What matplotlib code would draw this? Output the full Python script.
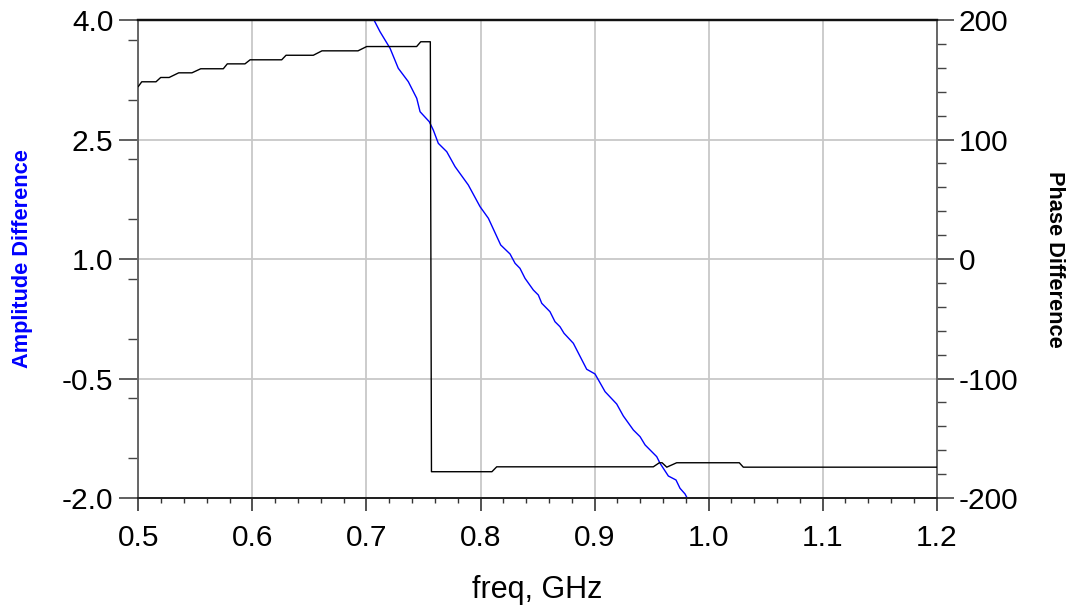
import matplotlib
matplotlib.use("Agg")
import matplotlib.pyplot as plt
from matplotlib.ticker import MultipleLocator, FixedLocator

plt.rcParams['font.family'] = ['Liberation Sans', 'DejaVu Sans']

# Amplitude difference (left axis)
amp_freq = [0.7066, 0.7119, 0.7207, 0.7279, 0.7367, 0.7441, 0.7470, 0.7551, 0.7586,
            0.7630, 0.7704, 0.7777, 0.7893, 0.7996, 0.8069, 0.8177, 0.8259, 0.8303,
            0.8346, 0.8390, 0.8463, 0.8507, 0.8537, 0.8609, 0.8653, 0.8697, 0.8732,
            0.8814, 0.8931, 0.9004, 0.9092, 0.9194, 0.9252, 0.9340, 0.9399, 0.9443,
            0.9545, 0.9574, 0.9647, 0.9714, 0.9749, 0.9793, 0.9813]
amp_vals = [4.000, 3.853, 3.645, 3.394, 3.226, 3.017, 2.849, 2.723, 2.619,
            2.452, 2.347, 2.159, 1.929, 1.657, 1.511, 1.176, 1.063, 0.946,
            0.883, 0.758, 0.611, 0.548, 0.444, 0.339, 0.213, 0.150, 0.068,
            -0.058, -0.384, -0.443, -0.665, -0.820, -0.970, -1.146, -1.230, -1.334,
            -1.481, -1.564, -1.724, -1.774, -1.878, -1.949, -2.003]

# Phase difference (right axis)
ph_freq = [0.500, 0.503, 0.5155, 0.5196, 0.527, 0.5354, 0.547, 0.5547, 0.5745,
           0.578, 0.5935, 0.598, 0.6257, 0.6295, 0.6534, 0.661, 0.6926, 0.7002,
           0.744, 0.7476, 0.756, 0.757, 0.810, 0.8142, 0.9515, 0.9568, 0.9592,
           0.9633, 0.972, 1.0269, 1.0304, 1.200]
ph_vals = [144.4, 148.3, 148.3, 151.9, 151.9, 155.8, 155.8, 159.2, 159.2,
           163.3, 163.3, 166.7, 166.7, 170.5, 170.5, 174.2, 174.2, 177.8,
           177.8, 181.8, 181.8, -178.0, -178.0, -173.9, -173.9, -170.5, -170.5,
           -174.2, -170.5, -170.5, -174.2, -174.2]

x_ticks = [0.5, 0.6, 0.7, 0.8, 0.9, 1.0, 1.1, 1.2]
left_ticks = [4.0, 2.5, 1.0, -0.5, -2.0]
right_ticks = [200, 100, 0, -100, -200]

fig = plt.figure(figsize=(10.74, 6.10), dpi=100)
ax = fig.add_axes([0.1288, 0.1836, 0.7434, 0.7836])
ax2 = ax.twinx()

ax.set_xlim(0.5, 1.2)
ax.set_ylim(-2.0, 4.0)
ax2.set_ylim(-200, 200)

ax.grid(True, color='#c8c8c8', linewidth=1.3)
ax.set_axisbelow(True)

ax.plot(amp_freq, amp_vals, color='#0000ff', linewidth=1.0, zorder=3)
ax2.plot(ph_freq, ph_vals, color='#000000', linewidth=1.0, zorder=3)

ax.xaxis.set_major_locator(FixedLocator(x_ticks))
ax.xaxis.set_minor_locator(MultipleLocator(0.02))
ax.set_xticklabels([f"{v:.1f}" for v in x_ticks])
ax.yaxis.set_major_locator(FixedLocator(left_ticks))
ax.yaxis.set_minor_locator(MultipleLocator(0.75))
ax.set_yticklabels([f"{v:.1f}" for v in left_ticks])
ax2.yaxis.set_major_locator(FixedLocator(right_ticks))
ax2.yaxis.set_minor_locator(MultipleLocator(20))
ax2.set_yticklabels([str(v) for v in right_ticks])

fs = 21.5
ax.tick_params(axis='x', which='major', direction='out', length=9.5, width=1.2,
               color='#333333', labelsize=fs, pad=9)
ax.tick_params(axis='x', which='minor', direction='out', length=3.5, width=1.0, color='#333333')
ax.tick_params(axis='y', which='major', direction='out', length=14, width=1.2,
               color='#444444', labelsize=fs, pad=4)
ax.tick_params(axis='y', which='minor', direction='out', length=7, width=1.0, color='#444444')
ax2.tick_params(axis='y', which='major', direction='out', length=12, width=1.2,
                color='#444444', labelsize=fs, pad=4)
ax2.tick_params(axis='y', which='minor', direction='out', length=6.5, width=1.0, color='#444444')

for a in (ax, ax2):
    a.spines['top'].set_color('#111111')
    a.spines['top'].set_linewidth(1.6)
    a.spines['left'].set_color('#666666')
    a.spines['left'].set_linewidth(1.2)
    a.spines['right'].set_color('#666666')
    a.spines['right'].set_linewidth(1.2)
    a.spines['bottom'].set_color('#222222')
    a.spines['bottom'].set_linewidth(1.4)

ax.set_xlabel('freq, GHz', fontsize=22, labelpad=17)
ax.set_ylabel('Amplitude Difference', fontsize=15.7, fontweight='bold', color='#0000ff',
              va='center')
ax.yaxis.set_label_coords(-0.1457, 0.5)
ax2.set_ylabel('Phase Difference', fontsize=15.7, fontweight='bold', color='#000000',
               rotation=270, va='center')
ax2.yaxis.set_label_coords(1.148, 0.5)

fig.savefig('out.png', dpi=100)
